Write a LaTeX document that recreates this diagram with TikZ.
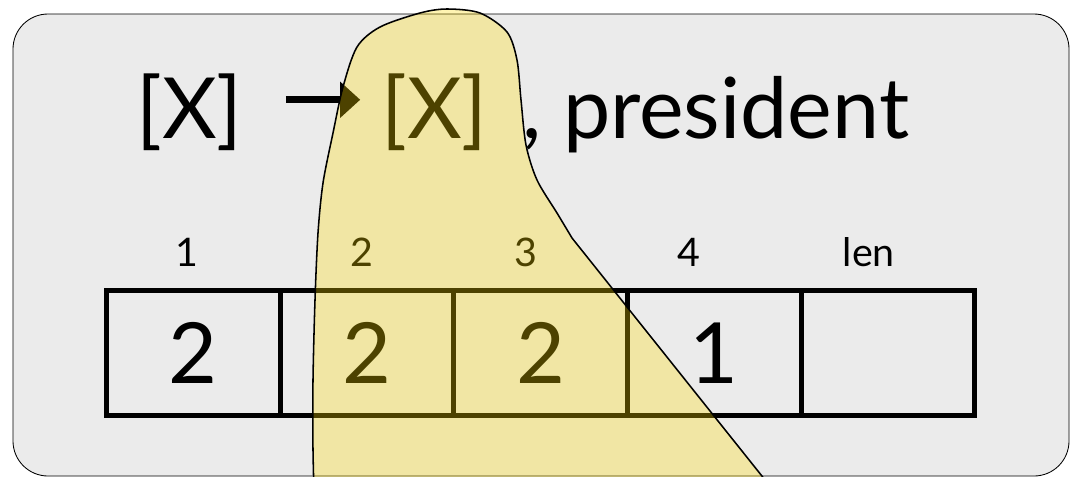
\documentclass[tikz,border=0pt]{standalone}
\usepackage{fontspec}
\setmainfont{Lato}
\usetikzlibrary{positioning,arrows.meta}
\definecolor{panelgray}{RGB}{235,235,235}
\definecolor{spanyellow}{RGB}{255,220,0}
\begin{document}
\begin{tikzpicture}[x=0.025cm, y=-0.025cm,
		big/.style={font=\fontsize{60}{60}\selectfont, inner sep=0pt},
		idx/.style={font=\fontsize{28}{28}\selectfont, inner sep=0pt},
		cell/.style={draw, line width=0.125cm, minimum width=4.34cm, minimum height=3.125cm, inner sep=0pt, outer sep=0pt, font=\fontsize{60}{60}\selectfont},
		rulearrow/.style={line width=0.17cm, -{Triangle[length=0.5cm, width=0.875cm]}, shorten <=1.07cm, shorten >=0.52cm},
		span/.style={draw, line width=1.1pt, fill=spanyellow, fill opacity=0.3}]
	\useasboundingbox (0,0) rectangle (1071,476);
	\begin{scope}
		\clip (0,0) rectangle (1071,476);
		\draw[fill=panelgray, line width=0.6pt, rounded corners=0.875cm] (13,14) rectangle (1069,476);
	\end{scope}
	% the rule
	\node[big, anchor=base west] (lhs) at (136,138) {[X]};
	\node[big, anchor=base west] (rhs) at (381,138) {[X]};
	\node[big, anchor=base west] (rest) at (522,138) {, president};
	\draw[rulearrow] ([yshift=0.3cm]lhs.east) -- ([yshift=0.3cm]rhs.west);
	% the array
	\node[cell] (c1) at (193.3,353) {2};
	\node[cell, right=0pt of c1] (c2) {2};
	\node[cell, right=0pt of c2] (c3) {2};
	\node[cell, right=0pt of c3] (c4) {1};
	\node[cell, right=0pt of c4] (c5) {};
	\path (c1.north) ++(-6,-38) node[idx] (i1) {1};
	\path (c2.north) ++(-5,-38) node[idx] (i2) {2};
	\path (c3.north) ++(-15,-38) node[idx] (i3) {3};
	\path (c4.north) ++(-25,-38) node[idx] (i4) {4};
	\path (c5.north) ++(-19,-38) node[idx] (i5) {len};
	% the span
	\begin{scope}
		\clip (0,0) rectangle (1071,476);
		\draw[span] plot[smooth] coordinates {(315,530) (313,450) (313,380) (315,300) (318,233) (323,183) (333,133) (343,87) (357,47) (380,27) (420,13) (447,9) (480,13) (507,32) (517,60) (521,100) (526,145) (537,180) (557,213) (572,238)} -- (805,530) -- cycle;
	\end{scope}
\end{tikzpicture}
\end{document}
